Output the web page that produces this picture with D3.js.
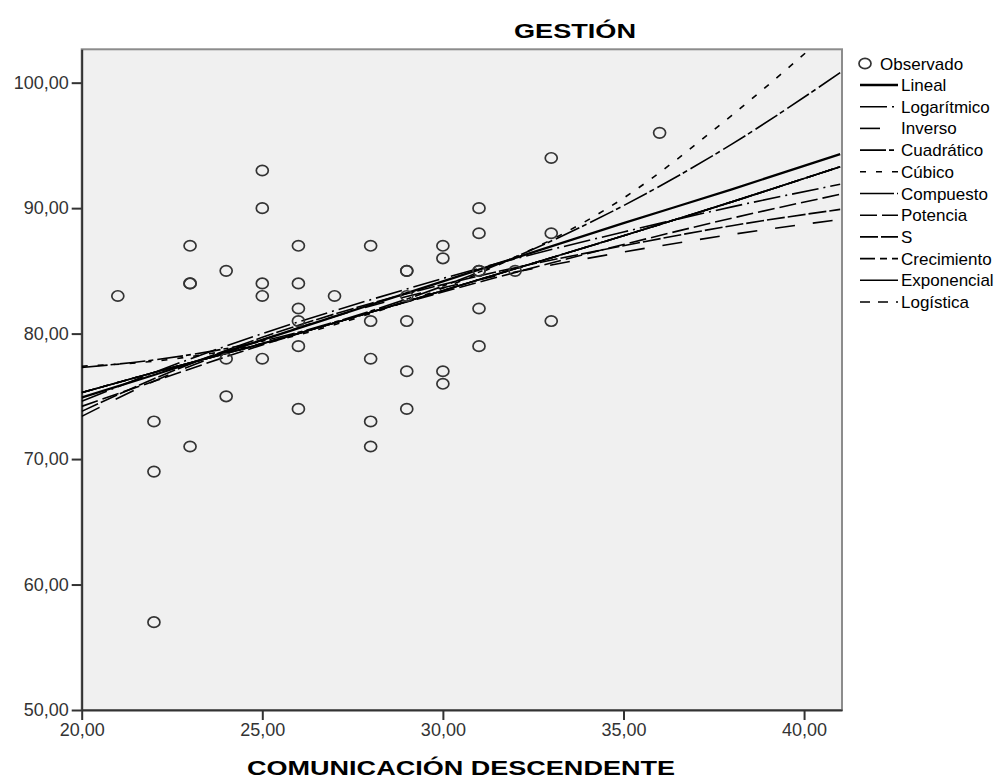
<!DOCTYPE html>
<html>
<head>
<meta charset="utf-8">
<script src="https://cdn.jsdelivr.net/npm/d3@7"></script>
<style>
  body { margin: 0; background: #fff; }
  svg { font-family: "Liberation Sans", Arial, sans-serif; }
</style>
</head>
<body>
<div id="chart"></div>
<script>
// observed cases (COMUNICACIÓN DESCENDENTE, GESTIÓN)
const obsX = [21, 22, 22, 22, 23, 23, 23, 23, 24, 24, 24, 25, 25, 25, 25, 25,
  26, 26, 26, 26, 26, 26, 27, 28, 28, 28, 28, 28, 29, 29, 29, 29, 29, 29,
  30, 30, 30, 30, 31, 31, 31, 31, 31, 31, 32, 33, 33, 33, 36]
const obsY = [83, 73, 69, 57, 87, 84, 84, 71, 85, 78, 75, 93, 90, 84, 83, 78,
  87, 84, 82, 81, 79, 74, 83, 87, 81, 78, 73, 71, 85, 85, 83, 81, 77, 74,
  87, 86, 77, 76, 90, 88, 85, 85, 82, 79, 85, 94, 88, 81, 96]

const fitX = [20, 22, 25, 28, 31, 35, 38, 41]
const lineal = [74.9, 76.7, 79.5, 82.3, 85.1, 88.8, 91.5, 94.3]
const logaritmico = [74.6, 76.9, 80.0, 82.7, 85.2, 88.1, 90.1, 91.9]
const inverso = [73.4, 76.2, 79.5, 82.2, 84.3, 86.5, 87.9, 89.1]
const cuadratico = [77.3, 77.9, 79.4, 81.8, 84.9, 90.2, 95.1, 100.8]
const cubico = [77.4, 77.8, 79.2, 81.6, 84.8, 90.8, 97.4, 104.8]
const compuesto = [75.3, 76.9, 79.2, 81.7, 84.3, 87.8, 90.5, 93.3]
const potencia = [74.2, 76.2, 79.1, 81.7, 84.1, 87.1, 89.2, 91.1]
const sCurve = [73.8, 76.4, 79.7, 82.4, 84.6, 87.0, 88.6, 89.9]
const crecimiento = [75.3, 76.9, 79.2, 81.7, 84.3, 87.8, 90.5, 93.3]
const exponencial = [75.3, 76.9, 79.2, 81.7, 84.3, 87.8, 90.5, 93.3]
const logistica = [75.3, 76.9, 79.2, 81.7, 84.3, 87.8, 90.5, 93.3]

const seriesNames = ['Lineal', 'Logarítmico', 'Inverso', 'Cuadrático', 'Cúbico',
  'Compuesto', 'Potencia', 'S', 'Crecimiento', 'Exponencial', 'Logística']
const seriesValues = [lineal, logaritmico, inverso, cuadratico, cubico,
  compuesto, potencia, sCurve, crecimiento, exponencial, logistica]

const xTicks = [20, 25, 30, 35, 40]
const yTicks = [50, 60, 70, 80, 90, 100]

// line styles (legend order)
const dashes = [null, '27,5,2,5', '20,18', '26,3,5,4', '6,10', '34,3,2,3',
  '17,5', '18,3', '15,5,7,5', null, '10,8']
const widths = [2.3, 1.6, 1.6, 1.6, 1.6, 1.6, 1.6, 1.6, 1.6, 1.6, 1.6]

const W = 1006
const H = 780
const plot = { left: 81.7, right: 842, top: 49.3, bottom: 710 }

const svg = d3.select('#chart').append('svg')
  .attr('width', W)
  .attr('height', H)

const x = d3.scaleLinear().domain([20, 41.05]).range([plot.left, plot.right])
const y = d3.scaleLinear().domain([50, 102.66]).range([plot.bottom, plot.top])

const loc = d3.formatLocale({ decimal: ',', thousands: '.', grouping: [3], currency: ['', ''] })
const fmt = loc.format('.2f')

svg.append('rect')
  .attr('x', plot.left)
  .attr('y', plot.top)
  .attr('width', plot.right - plot.left)
  .attr('height', plot.bottom - plot.top)
  .attr('fill', '#f0f0f0')
  .attr('stroke', '#8c8c8c')
  .attr('stroke-width', 2)

svg.append('clipPath').attr('id', 'clip')
  .append('rect')
  .attr('x', plot.left)
  .attr('y', plot.top)
  .attr('width', plot.right - plot.left)
  .attr('height', plot.bottom - plot.top)

// axes
const xAxis = svg.append('g')
  .attr('transform', 'translate(0,' + plot.bottom + ')')
  .call(d3.axisBottom(x).tickValues(xTicks).tickFormat(fmt).tickSize(10).tickSizeOuter(0).tickPadding(3))
const yAxis = svg.append('g')
  .attr('transform', 'translate(' + plot.left + ',0)')
  .call(d3.axisLeft(y).tickValues(yTicks).tickFormat(fmt).tickSize(10).tickSizeOuter(0).tickPadding(3))

for (const ax of [xAxis, yAxis]) {
  ax.select('.domain').attr('stroke', '#333').attr('stroke-width', 2)
  ax.selectAll('.tick line').attr('stroke', '#333').attr('stroke-width', 2)
  ax.selectAll('.tick text')
    .attr('fill', '#333')
    .style('font-size', '18px')
    .style('font-family', '"Liberation Sans", Arial, sans-serif')
}

// fit lines
const line = d3.line()
  .x(d => x(d[0]))
  .y(d => y(d[1]))
  .curve(d3.curveMonotoneX)

const fits = svg.append('g').attr('clip-path', 'url(#clip)')
seriesValues.forEach((vals, i) => {
  fits.append('path')
    .datum(fitX.map((fx, j) => [fx, vals[j]]))
    .attr('d', line)
    .attr('fill', 'none')
    .attr('stroke', '#000')
    .attr('stroke-width', widths[i])
    .attr('stroke-dasharray', dashes[i])
})

// observed points
svg.append('g').selectAll('ellipse')
  .data(obsX.map((d, i) => [d, obsY[i]]))
  .join('ellipse')
  .attr('cx', d => x(d[0]))
  .attr('cy', d => y(d[1]))
  .attr('rx', 6)
  .attr('ry', 5.2)
  .attr('fill', 'none')
  .attr('stroke', '#333')
  .attr('stroke-width', 1.7)

// titles
svg.append('text')
  .attr('x', 575)
  .attr('y', 38)
  .attr('text-anchor', 'middle')
  .attr('font-weight', 'bold')
  .attr('font-size', 21)
  .attr('textLength', 122)
  .attr('lengthAdjust', 'spacingAndGlyphs')
  .text('GESTIÓN')

svg.append('text')
  .attr('x', 461)
  .attr('y', 775)
  .attr('text-anchor', 'middle')
  .attr('font-weight', 'bold')
  .attr('font-size', 21)
  .attr('textLength', 428)
  .attr('lengthAdjust', 'spacingAndGlyphs')
  .text('COMUNICACIÓN DESCENDENTE')

// legend
const legend = svg.append('g')
legend.append('ellipse')
  .attr('cx', 865)
  .attr('cy', 63.5)
  .attr('rx', 6)
  .attr('ry', 5.2)
  .attr('fill', 'none')
  .attr('stroke', '#333')
  .attr('stroke-width', 1.7)
legend.append('text')
  .attr('x', 880)
  .attr('y', 69.5)
  .attr('font-size', 17)
  .text('Observado')

const rows = legend.selectAll('g.row')
  .data(seriesNames)
  .join('g')
  .attr('class', 'row')
  .attr('transform', (d, i) => 'translate(0,' + (85 + i * 21.7) + ')')

rows.append('line')
  .attr('x1', 860)
  .attr('x2', 898)
  .attr('stroke', '#000')
  .attr('stroke-width', (d, i) => widths[i])
  .attr('stroke-dasharray', (d, i) => dashes[i])

rows.append('text')
  .attr('x', 901)
  .attr('y', 6)
  .attr('font-size', 17)
  .text(d => d)
</script>
</body>
</html>
